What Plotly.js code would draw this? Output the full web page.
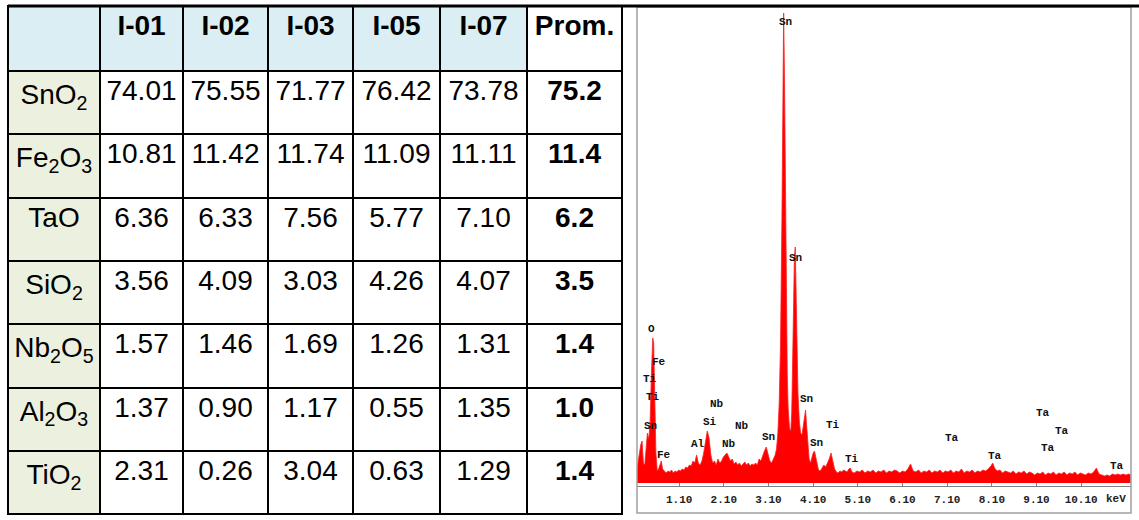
<!DOCTYPE html>
<html>
<head>
<meta charset="utf-8">
<script src="https://cdn.plot.ly/plotly-3.0.1.min.js"></script>
<style>html,body{margin:0;padding:0;background:#fff;}#chart{width:1139px;height:520px;}</style>
</head>
<body>
<div id="chart"></div>
<script>
// ---------- Table data ----------
var compounds = ['SnO<sub>2</sub>', 'Fe<sub>2</sub>O<sub>3</sub>', 'TaO', 'SiO<sub>2</sub>', 'Nb<sub>2</sub>O<sub>5</sub>', 'Al<sub>2</sub>O<sub>3</sub>', 'TiO<sub>2</sub>'];
var samples = ['I-01', 'I-02', 'I-03', 'I-05', 'I-07'];
var I01 = [74.01, 10.81, 6.36, 3.56, 1.57, 1.37, 2.31];
var I02 = [75.55, 11.42, 6.33, 4.09, 1.46, 0.90, 0.26];
var I03 = [71.77, 11.74, 7.56, 3.03, 1.69, 1.17, 3.04];
var I05 = [76.42, 11.09, 5.77, 4.26, 1.26, 0.55, 0.63];
var I07 = [73.78, 11.11, 7.10, 4.07, 1.31, 1.35, 1.29];
var prom = [75.2, 11.4, 6.2, 3.5, 1.4, 1.0, 1.4];
var promLabel = 'Prom.';

// ---------- EDS spectrum data (keV, counts) ----------
var energyKeV = [0.15,0.18,0.21,0.24,0.27,0.30,0.33,0.36,0.39,0.42,0.45,0.48,0.51,0.53,0.55,0.58,0.61,0.64,0.67,0.70,
 0.73,0.77,0.81,0.85,0.89,0.93,0.97,1.01,1.05,1.09,1.13,1.17,1.21,1.25,1.29,1.33,1.37,1.41,1.45,1.49,
 1.53,1.57,1.61,1.65,1.69,1.73,1.77,1.81,1.85,1.89,1.93,1.97,2.01,2.05,2.09,2.13,2.17,2.21,2.25,2.29,
 2.33,2.37,2.41,2.45,2.49,2.53,2.57,2.61,2.65,2.69,2.73,2.77,2.81,2.85,2.89,2.93,2.97,3.01,3.05,3.09,
 3.13,3.17,3.21,3.25,3.28,3.31,3.34,3.37,3.40,3.42,3.44,3.46,3.48,3.50,3.52,3.54,3.57,3.60,3.62,3.64,
 3.66,3.68,3.70,3.72,3.74,3.76,3.79,3.82,3.85,3.88,3.91,3.93,3.95,3.98,4.01,4.04,4.07,4.10,4.13,4.16,
 4.19,4.22,4.26,4.30,4.34,4.38,4.42,4.46,4.50,4.54,4.58,4.62,4.66,4.70,4.74,4.78,4.82,4.86,4.90,4.93,
 4.97,5.02,5.08,5.14,5.20,5.26,5.32,5.38,5.44,5.50,5.56,5.62,5.68,5.74,5.80,5.86,5.92,5.98,6.04,6.10,
 6.16,6.22,6.28,6.34,6.40,6.46,6.52,6.58,6.64,6.70,6.76,6.82,6.88,6.94,7.00,7.06,7.12,7.18,7.24,7.30,
 7.36,7.42,7.48,7.54,7.60,7.66,7.72,7.78,7.84,7.90,7.96,8.02,8.08,8.12,8.16,8.22,8.28,8.34,8.40,8.46,
 8.52,8.58,8.64,8.70,8.76,8.82,8.88,8.94,9.00,9.06,9.12,9.18,9.24,9.30,9.36,9.42,9.48,9.54,9.60,9.66,
 9.72,9.78,9.84,9.90,9.96,10.02,10.08,10.14,10.20,10.26,10.32,10.38,10.44,10.50,10.56,10.62,10.68,10.74,10.80,10.86,
 10.92,10.98,11.04,11.10,11.16,11.21];
var counts = [12,22,30,38,42,20,18,36,50,44,60,110,145,140,90,30,12,14,18,22,
 14,12,10,12,11,13,10,12,11,13,12,14,13,16,15,18,17,22,20,28,
 20,18,22,30,42,52,45,28,20,22,18,24,20,22,26,28,30,26,22,24,
 19,21,18,20,17,19,21,18,20,17,19,18,20,18,24,22,28,32,36,28,
 22,20,24,28,34,50,80,140,260,380,470,400,280,180,110,75,55,52,70,120,
 180,225,236,190,130,90,62,50,48,58,70,73,60,40,24,20,26,30,32,26,
 18,13,12,15,18,16,20,24,30,22,14,11,10,12,11,13,12,11,14,15,
 11,10,12,11,13,10,12,11,13,10,12,11,13,10,12,11,13,12,10,12,
 11,14,19,12,11,13,10,12,11,13,10,12,11,13,10,12,11,13,10,12,
 11,14,10,12,11,13,10,12,11,13,12,14,17,20,15,12,13,10,12,11,
 10,12,9,11,10,12,9,11,10,8,10,9,11,8,10,9,11,8,10,9,
 11,8,10,9,11,8,10,9,8,10,9,11,15,9,8,7,8,7,9,8,
 9,8,9,8,9,8];

// ---------- Peak labels ----------
var peakLabels = ['Sn','Sn','O','Fe','Ti','Ti','Sn','Fe','Al','Nb','Si','Nb','Nb','Sn','Sn','Sn','Ti','Ti','Ta','Ta','Ta','Ta','Ta','Ta'];
var peakLabelKeV = [3.49,3.71,0.49,0.66,0.45,0.51,0.46,0.76,1.53,1.95,1.79,2.51,2.21,3.10,3.96,4.18,4.55,4.96,7.20,8.17,9.24,9.68,9.36,10.91];
var peakLabelCounts = [461,225,154,121,104,86,57,28,39,79,61,57,39,46,84,40,58,24,45,27,70,52,35,17];

var tickKeV = [1.1,2.1,3.1,4.1,5.1,6.1,7.1,8.1,9.1,10.1];
var tickText = ['1.10','2.10','3.10','4.10','5.10','6.10','7.10','8.10','9.10','10.10'];
var unitLabel = 'keV';

// ---------- Build ----------
var W = 1139, H = 520;
function px(x){return x / W;}
function py(y){return 1 - y / H;}

var headerVals = [''].concat(samples).concat([promLabel]);
var fmt = function(a, d){return a.map(function(v){return v.toFixed(d);});};
var cellVals = [compounds, fmt(I01, 2), fmt(I02, 2), fmt(I03, 2), fmt(I05, 2), fmt(I07, 2), fmt(prom, 1)];

var blue = '#DAEEF3', green = '#EBF1DE';
var tableFont = 'Liberation Sans, Arial, sans-serif';
var monoFont = 'Liberation Mono, DejaVu Sans Mono, monospace';
var tableTrace = {
  type: 'table',
  domain: {x: [px(8), px(622)], y: [0, py(6)]},
  columnwidth: [92, 83, 85, 85, 87, 87, 95],
  header: {
    values: headerVals,
    align: 'center',
    height: 65,
    fill: {color: [blue, blue, blue, blue, blue, blue, '#FFFFFF']},
    line: {color: '#000000', width: 2.5},
    font: {family: tableFont, size: 28, color: '#000000', weight: 'bold'}
  },
  cells: {
    values: cellVals,
    align: 'center',
    height: 63.3,
    fill: {color: [green, '#FFFFFF', '#FFFFFF', '#FFFFFF', '#FFFFFF', '#FFFFFF', '#FFFFFF']},
    line: {color: '#000000', width: 2},
    font: {family: tableFont, size: 28, color: '#000000',
      weight: ['normal', 'normal', 'normal', 'normal', 'normal', 'normal', 'bold']}
  }
};

var spectrum = {
  type: 'scatter', mode: 'lines',
  x: energyKeV, y: counts,
  fill: 'tozeroy', fillcolor: '#FF0000',
  line: {color: '#FF2020', width: 0.8},
  xaxis: 'x', yaxis: 'y', hoverinfo: 'x+y', showlegend: false
};

var annotations = peakLabels.map(function(t, i){
  return {x: peakLabelKeV[i], y: peakLabelCounts[i], xref: 'x', yref: 'y', text: t, showarrow: false,
    xanchor: 'center', yanchor: 'middle',
    font: {family: monoFont, size: 11, color: '#111111', weight: 'bold'}};
});
annotations.push({x: 10.88, y: py(499), xref: 'x', yref: 'paper', text: unitLabel, showarrow: false,
  xanchor: 'center', yanchor: 'middle',
  font: {family: monoFont, size: 11, color: '#222222', weight: 'bold'}});

var layout = {
  width: W, height: H,
  margin: {l: 0, r: 0, t: 0, b: 0, pad: 0},
  paper_bgcolor: '#FFFFFF', plot_bgcolor: '#FFFFFF',
  showlegend: false,
  xaxis: {
    domain: [px(637), px(1131)], range: [(637 - 630) / 44.67, (1131 - 630) / 44.67],
    showgrid: false, zeroline: false, showline: true, linecolor: '#808080', linewidth: 1,
    ticks: 'inside', ticklen: 3, tickcolor: '#808080', tickwidth: 1,
    tickvals: tickKeV, ticktext: tickText, ticklabelstandoff: 3,
    tickfont: {family: monoFont, size: 11, color: '#222222', weight: 'bold'},
    fixedrange: true
  },
  yaxis: {
    domain: [py(486), py(8)], range: [-3, 475],
    showgrid: false, zeroline: false, showline: false, showticklabels: false, ticks: '',
    fixedrange: true
  },
  annotations: annotations,
  shapes: [
    {type: 'rect', xref: 'paper', yref: 'paper', x0: px(637), x1: px(1131), y0: py(513), y1: py(7),
     line: {color: '#A0A0A0', width: 1.5}, fillcolor: 'rgba(0,0,0,0)', layer: 'above'},
    {type: 'line', xref: 'paper', yref: 'paper', x0: px(8), x1: 1, y0: py(6), y1: py(6),
     line: {color: '#000000', width: 3}, layer: 'above'}
  ]
};

Plotly.newPlot('chart', [tableTrace, spectrum], layout, {displayModeBar: false, staticPlot: true});
</script>
</body>
</html>
